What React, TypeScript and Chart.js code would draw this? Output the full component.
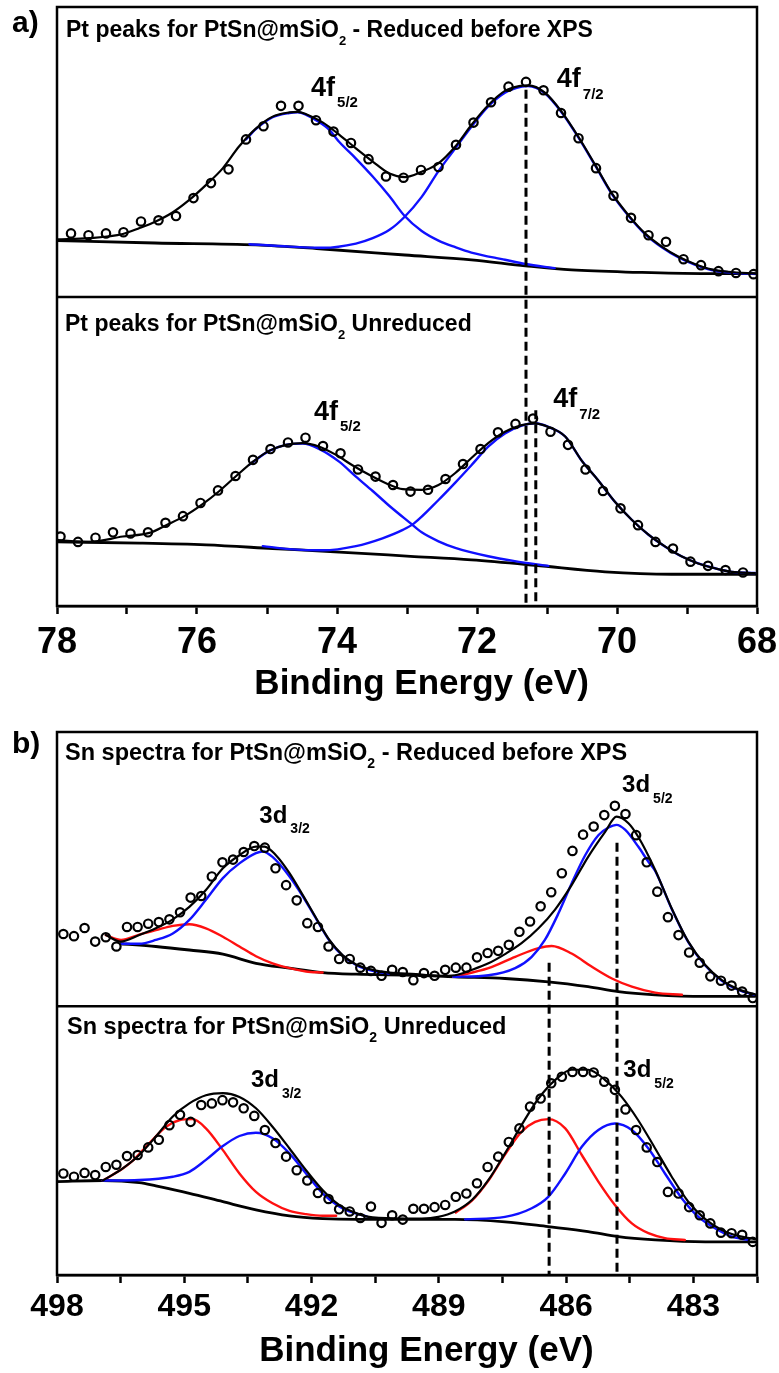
import React, { useEffect, useRef } from "react";
import { Chart, registerables } from "chart.js";

Chart.register(...registerables);

const FONT_FAMILY = "'Liberation Sans', Arial, Helvetica, sans-serif";
const BLUE = "#1010ff";
const RED = "#ff1010";

// ---------------- Panel a : Pt 4f (x = binding energy eV, y = stacked intensity a.u.) ----------------
const ptAxis = { min: 68, max: 78, step: 1, labelEvery: 2 };
const ptSeparator = 51.6;

const ptReducedPoints: number[][] = [
  [77.8, 62.2], [77.55, 61.9], [77.3, 62.2], [77.05, 62.4], [76.8, 64.2], [76.55, 64.4], [76.3, 65.1], [76.05, 68.1],
  [75.8, 70.6], [75.55, 72.9], [75.3, 77.9], [75.05, 80.1], [74.8, 83.5], [74.55, 83.5], [74.3, 81.1], [74.05, 79.2],
  [73.8, 77.3], [73.55, 74.6], [73.3, 71.7], [73.05, 71.5], [72.8, 72.8], [72.55, 73.3], [72.3, 77.0], [72.05, 80.7],
  [71.8, 84.1], [71.55, 86.7], [71.3, 87.5], [71.05, 86.1], [70.8, 82.3], [70.55, 78.1], [70.3, 73.1], [70.05, 68.5],
  [69.8, 64.8], [69.55, 61.9], [69.3, 60.8], [69.05, 57.9], [68.8, 56.9], [68.55, 55.9], [68.3, 55.6], [68.05, 55.4],
];
const ptReducedFit: number[][] = [
  [78.0, 61.2], [77.54, 61.4], [77.06, 62.1], [76.82, 63.1], [76.59, 64.2], [76.35, 65.7], [76.11, 67.8], [75.87, 70.3],
  [75.63, 73.1], [75.4, 76.7], [75.16, 79.7], [74.92, 81.7], [74.68, 82.4], [74.56, 82.5], [74.44, 82.1], [74.2, 80.7],
  [73.97, 78.7], [73.73, 76.4], [73.49, 74.2], [73.25, 72.2], [73.03, 71.6], [72.79, 72.5], [72.55, 73.9], [72.31, 76.7],
  [72.08, 80.3], [71.84, 83.6], [71.6, 86.0], [71.4, 86.8], [71.27, 86.9], [71.03, 85.7], [70.79, 82.5], [70.55, 78.3],
  [70.31, 73.6], [70.08, 69.0], [69.84, 65.3], [69.6, 62.2], [69.36, 60.0], [69.12, 58.3], [68.89, 57.1], [68.65, 56.2],
  [68.41, 55.8], [68.0, 55.5],
];
const ptReducedBackground: number[][] = [
  [78.0, 61.0], [76.6, 60.6], [75.16, 60.3], [74.2, 59.6], [73.03, 58.6], [72.08, 57.8], [71.31, 56.8], [70.65, 56.1],
  [69.7, 55.7], [68.8, 55.5], [68.0, 55.5],
];
const ptReduced52: number[][] = [
  [75.3, 77.9], [75.16, 79.6], [74.92, 81.6], [74.68, 82.3], [74.56, 82.4], [74.44, 82.0], [74.3, 81.1], [74.11, 79.5],
  [73.97, 77.5], [73.73, 74.7], [73.49, 71.7], [73.25, 68.4], [73.04, 65.2], [72.79, 62.6], [72.55, 61.0], [72.31, 59.9],
  [72.08, 59.0], [71.6, 57.8], [71.31, 57.1], [70.89, 56.4],
];
const ptReduced72: number[][] = [
  [75.25, 60.4], [74.68, 60.0], [74.2, 59.8], [73.73, 60.5], [73.49, 61.4], [73.25, 62.8], [73.04, 64.9], [72.79, 68.3],
  [72.55, 72.6], [72.31, 76.4], [72.08, 80.0], [71.84, 83.4], [71.6, 85.7], [71.36, 86.7], [71.27, 86.8], [71.03, 85.6],
  [70.79, 82.4], [70.55, 78.2], [70.31, 73.5], [70.08, 68.9], [69.84, 65.2], [69.6, 62.1], [69.36, 59.9], [69.12, 58.2],
  [68.89, 57.0], [68.65, 56.1], [68.41, 55.7], [68.0, 55.4],
];

const ptUnreducedPoints: number[][] = [
  [77.95, 11.6], [77.7, 10.7], [77.45, 11.4], [77.2, 12.3], [76.95, 12.1], [76.7, 12.3], [76.45, 13.9], [76.2, 15.0],
  [75.95, 17.2], [75.7, 19.3], [75.45, 21.7], [75.2, 24.4], [74.95, 26.2], [74.7, 27.3], [74.45, 28.1], [74.2, 26.7],
  [73.95, 25.5], [73.7, 22.8], [73.45, 21.6], [73.2, 20.2], [72.95, 19.1], [72.7, 19.4], [72.45, 21.2], [72.2, 23.7],
  [71.95, 26.2], [71.7, 29.0], [71.45, 30.4], [71.2, 31.3], [70.95, 29.1], [70.7, 26.9], [70.45, 22.8], [70.2, 19.2],
  [69.95, 16.3], [69.7, 13.5], [69.45, 10.7], [69.2, 9.6], [68.95, 7.4], [68.7, 6.7], [68.45, 6.0], [68.2, 5.6],
];
const ptUnreducedFit: number[][] = [
  [78.0, 11.0], [77.54, 10.7], [77.06, 11.6], [76.68, 12.2], [76.44, 13.5], [76.18, 15.0], [75.92, 17.0], [75.68, 19.2],
  [75.44, 21.7], [75.2, 24.1], [74.97, 25.9], [74.73, 26.9], [74.49, 27.2], [74.25, 26.6], [74.01, 25.2], [73.78, 23.5],
  [73.54, 21.9], [73.3, 20.5], [73.06, 19.5], [72.79, 19.4], [72.55, 20.2], [72.31, 22.2], [72.08, 24.7], [71.84, 27.2],
  [71.6, 29.1], [71.36, 30.2], [71.17, 30.5], [70.98, 29.9], [70.74, 28.3], [70.5, 24.2], [70.27, 21.0], [70.03, 17.4],
  [69.79, 14.4], [69.55, 11.9], [69.31, 9.9], [69.08, 8.3], [68.84, 7.1], [68.6, 6.3], [68.36, 5.7], [68.03, 5.5],
];
const ptUnreducedBackground: number[][] = [
  [78.0, 10.7], [76.82, 10.5], [75.87, 10.2], [74.92, 9.6], [73.97, 9.0], [72.95, 8.3], [72.08, 7.7], [71.17, 6.8],
  [70.17, 5.7], [69.22, 5.3], [68.0, 5.3],
];
const ptUnreduced52: number[][] = [
  [75.25, 23.6], [74.97, 25.9], [74.73, 26.9], [74.49, 27.1], [74.25, 26.2], [73.97, 24.1], [73.73, 21.6], [73.49, 19.2],
  [73.25, 16.7], [72.97, 14.0], [72.79, 12.3], [72.55, 10.8], [72.31, 9.7], [71.84, 8.3], [71.46, 7.5], [70.98, 6.7],
];
const ptUnreduced72: number[][] = [
  [75.06, 10.0], [74.68, 9.5], [74.2, 9.3], [73.73, 10.0], [73.35, 11.3], [73.06, 12.7], [72.9, 13.8], [72.55, 17.7],
  [72.31, 20.6], [72.08, 23.5], [71.84, 26.6], [71.6, 28.8], [71.36, 30.1], [71.17, 30.5], [70.98, 29.9], [70.74, 28.3],
  [70.5, 24.2], [70.27, 21.0], [70.03, 17.4], [69.79, 14.4], [69.55, 11.9], [69.31, 9.9], [69.08, 8.3], [68.84, 7.1],
  [68.6, 6.3], [68.36, 5.7], [68.03, 5.5],
];
// reference lines: [energy, top intensity]
const ptMarkers: number[][] = [[71.3, 86.2], [71.16, 32.7]];

// ---------------- Panel b : Sn 3d ----------------
const snAxis = { min: 481.5, max: 498, step: 1.5, labelEvery: 3 };
const snSeparator = 49.5;

const snReducedPoints: number[][] = [
  [497.85, 62.8], [497.6, 62.4], [497.35, 63.9], [497.1, 61.4], [496.85, 62.2], [496.6, 60.5], [496.35, 64.1], [496.1, 64.1],
  [495.85, 64.7], [495.6, 65.0], [495.35, 65.5], [495.1, 66.8], [494.85, 69.5], [494.6, 69.8], [494.35, 73.4], [494.1, 76.0],
  [493.85, 76.5], [493.6, 77.9], [493.35, 79.0], [493.1, 78.7], [492.85, 74.9], [492.6, 71.8], [492.35, 69.0], [492.1, 64.8],
  [491.85, 64.1], [491.6, 60.5], [491.35, 58.2], [491.1, 58.2], [490.85, 56.6], [490.6, 56.0], [490.35, 55.1], [490.1, 56.2],
  [489.85, 55.8], [489.6, 54.3], [489.35, 55.6], [489.1, 55.1], [488.85, 56.2], [488.6, 56.6], [488.35, 56.6], [488.1, 58.5],
  [487.85, 59.3], [487.6, 59.7], [487.35, 60.8], [487.1, 63.2], [486.85, 65.1], [486.6, 67.9], [486.35, 70.5], [486.1, 74.0],
  [485.85, 78.1], [485.6, 81.1], [485.35, 82.6], [485.1, 84.7], [484.85, 86.4], [484.6, 84.9], [484.35, 81.0], [484.1, 76.0],
  [483.85, 70.6], [483.6, 65.9], [483.35, 62.6], [483.1, 59.4], [482.85, 57.5], [482.6, 55.0], [482.35, 54.2], [482.1, 53.3],
  [481.85, 52.2], [481.6, 51.0],
];
const snReducedFit: number[][] = [
  [496.85, 62.6], [496.5, 61.4], [496.06, 62.6], [495.67, 63.85], [495.27, 65.5], [494.88, 67.8], [494.49, 70.9], [494.09, 74.9],
  [493.7, 77.3], [493.31, 78.9], [493.11, 78.9], [492.84, 77.3], [492.52, 74.0], [492.21, 70.0], [491.89, 65.7], [491.58, 61.7],
  [491.27, 58.9], [490.95, 57.2], [490.56, 56.2], [490.17, 55.7], [489.54, 55.4], [489.01, 55.1], [488.62, 55.2], [488.22, 56.2],
  [487.83, 57.4], [487.44, 59.1], [487.05, 61.1], [486.65, 63.85], [486.26, 67.3], [485.87, 71.8], [485.48, 77.0], [485.08, 81.6],
  [484.81, 84.4], [484.53, 83.2], [484.3, 80.7], [483.9, 74.6], [483.51, 67.5], [483.12, 61.4], [482.72, 57.1], [482.33, 54.3],
  [481.94, 52.6], [481.55, 51.7],
];
const snReducedBackground: number[][] = [
  [496.5, 61.0], [495.67, 60.5], [494.88, 59.85], [494.09, 59.1], [493.31, 57.4], [492.52, 56.5], [491.74, 55.7], [490.95, 55.4],
  [489.54, 55.2], [488.62, 54.9], [487.44, 54.6], [486.42, 54.0], [485.48, 53.1], [484.77, 52.2], [483.9, 51.6], [482.72, 51.3],
  [481.55, 51.3],
];
const snReducedBlue32: number[][] = [
  [496.5, 61.0], [496.06, 61.0], [495.67, 61.7], [495.27, 62.9], [494.88, 65.4], [494.49, 69.1], [494.09, 73.1], [493.7, 75.8],
  [493.31, 77.7], [493.15, 78.0], [492.92, 77.0], [492.52, 73.4], [492.21, 69.8], [491.89, 65.6], [491.58, 61.6], [491.27, 58.8],
  [490.95, 57.1], [490.56, 56.0], [490.17, 55.5],
];
const snReducedRed32: number[][] = [
  [496.85, 62.6], [496.49, 61.7], [496.06, 62.7], [495.67, 63.5], [495.27, 64.3], [494.88, 64.6], [494.49, 63.85], [494.09, 62.3],
  [493.7, 60.5], [493.31, 58.7], [492.92, 57.4], [492.52, 56.5], [492.13, 55.9], [491.74, 55.7],
];
const snReducedBlue52: number[][] = [
  [488.66, 54.9], [487.83, 55.2], [487.2, 56.5], [486.81, 58.6], [486.5, 61.7], [486.18, 66.6], [485.87, 72.1], [485.55, 77.3],
  [485.24, 81.0], [485.0, 82.4], [484.81, 82.9], [484.61, 82.0], [484.3, 78.9], [484.06, 76.1], [483.9, 74.4], [483.51, 67.4],
  [483.12, 61.3], [482.72, 57.0], [482.33, 54.2], [481.94, 52.5], [481.55, 51.6],
];
const snReducedRed52: number[][] = [
  [488.66, 54.9], [487.83, 56.5], [487.2, 58.6], [486.65, 60.2], [486.34, 60.6], [485.87, 59.2], [485.4, 56.8], [484.92, 54.6],
  [484.45, 53.1], [483.9, 52.0], [483.27, 51.6],
];

const snUnreducedPoints: number[][] = [
  [497.85, 18.7], [497.6, 18.1], [497.35, 18.8], [497.1, 18.4], [496.85, 19.9], [496.6, 20.3], [496.35, 21.9], [496.1, 22.1],
  [495.85, 23.5], [495.6, 24.9], [495.35, 27.6], [495.1, 29.5], [494.85, 28.2], [494.6, 31.3], [494.35, 31.6], [494.1, 32.2],
  [493.85, 31.8], [493.6, 30.7], [493.35, 29.3], [493.1, 26.7], [492.85, 24.3], [492.6, 21.8], [492.35, 19.3], [492.1, 17.4],
  [491.85, 15.1], [491.6, 14.0], [491.35, 12.1], [491.1, 11.7], [490.85, 10.5], [490.6, 12.6], [490.35, 9.6], [490.1, 11.0],
  [489.85, 10.2], [489.6, 12.2], [489.35, 12.2], [489.1, 12.5], [488.85, 12.9], [488.6, 14.4], [488.35, 15.0], [488.1, 16.9],
  [487.85, 19.9], [487.6, 21.8], [487.35, 24.5], [487.1, 27.0], [486.85, 31.0], [486.6, 32.5], [486.35, 35.3], [486.1, 36.5],
  [485.85, 37.4], [485.6, 37.4], [485.35, 37.3], [485.1, 35.6], [484.85, 34.1], [484.6, 30.5], [484.35, 26.7], [484.1, 23.5],
  [483.85, 20.8], [483.6, 15.3], [483.35, 15.0], [483.1, 12.5], [482.85, 11.0], [482.6, 9.5], [482.35, 7.8], [482.1, 7.7],
  [481.85, 7.4], [481.6, 6.1],
];
const snUnreducedFit: number[][] = [
  [496.92, 17.4], [496.45, 19.65], [496.06, 22.1], [495.67, 25.5], [495.27, 29.2], [494.88, 31.6], [494.49, 33.1], [494.09, 33.5],
  [493.7, 32.8], [493.31, 30.7], [492.92, 27.3], [492.52, 23.3], [492.13, 19.3], [491.74, 15.65], [491.35, 12.9], [490.95, 11.4],
  [490.56, 10.6], [489.77, 10.4], [489.4, 10.4], [489.01, 10.7], [488.62, 11.7], [488.22, 13.8], [487.83, 17.5], [487.44, 22.4],
  [487.05, 27.6], [486.65, 32.5], [486.26, 35.9], [485.87, 37.8], [485.48, 37.8], [485.08, 35.9], [484.69, 32.8], [484.3, 28.5],
  [483.9, 23.3], [483.51, 18.1], [483.12, 13.5], [482.72, 10.3], [482.33, 8.3], [481.94, 7.2], [481.55, 6.6],
];
const snUnreducedBackground: number[][] = [
  [498.0, 17.2], [496.92, 17.4], [496.06, 17.0], [495.67, 16.4], [494.88, 15.05], [494.09, 13.5], [493.31, 12.0], [492.52, 10.9],
  [491.74, 10.4], [490.95, 10.25], [489.54, 10.25], [488.62, 10.25], [487.44, 9.8], [486.42, 8.9], [485.48, 8.0], [484.77, 7.05],
  [483.9, 6.45], [482.72, 6.1], [481.55, 6.1],
];
const snUnreducedRed32: number[][] = [
  [496.92, 17.4], [496.45, 19.6], [496.22, 21.0], [495.82, 24.3], [495.43, 27.3], [495.12, 28.5], [494.8, 28.7], [494.49, 27.0],
  [494.09, 23.0], [493.7, 18.7], [493.31, 15.3], [492.92, 13.2], [492.52, 11.8], [492.13, 11.2], [491.74, 10.9], [491.42, 10.9],
];
const snUnreducedBlue32: number[][] = [
  [496.92, 17.4], [496.06, 17.5], [495.27, 18.1], [494.88, 19.0], [494.49, 21.2], [494.09, 23.75], [493.7, 25.6], [493.31, 26.2],
  [492.92, 25.2], [492.52, 22.4], [492.13, 18.7], [491.74, 15.05], [491.35, 12.6], [491.11, 11.7], [490.7, 10.8],
];
const snUnreducedRed52: number[][] = [
  [488.6, 11.5], [488.22, 13.7], [487.83, 17.4], [487.44, 22.2], [487.05, 26.4], [486.73, 28.2], [486.42, 28.7], [486.02, 27.0],
  [485.63, 22.1], [485.24, 17.2], [484.85, 12.9], [484.45, 9.5], [484.06, 7.7], [483.67, 6.8], [483.2, 6.45],
];
const snUnreducedBlue52: number[][] = [
  [488.38, 10.25], [487.44, 10.7], [486.81, 12.3], [486.42, 14.4], [486.02, 18.7], [485.63, 23.6], [485.24, 26.7], [484.85, 27.9],
  [484.45, 26.7], [484.06, 23.3], [483.67, 18.7], [483.27, 14.1], [482.88, 10.7], [482.49, 8.6], [482.09, 7.05], [481.7, 6.45],
];
const snMarkers: number[][] = [[486.4, 57.5], [484.8, 79.6]];

// ---------------- helpers ----------------
const toXY = (arr: number[][]) => arr.map(([x, y]) => ({ x, y }));

const lineDs = (data: number[][], color: string, width: number, order: number) => ({
  data: toXY(data),
  borderColor: color,
  borderWidth: width,
  pointRadius: 0,
  fill: false,
  cubicInterpolationMode: "monotone",
  borderJoinStyle: "round",
  borderCapStyle: "round",
  order,
});
const pointDs = (data: number[][]) => ({
  data: toXY(data),
  showLine: false,
  pointRadius: 4.2,
  pointBorderWidth: 2.2,
  pointBorderColor: "#000",
  pointBackgroundColor: "rgba(0,0,0,0)",
  borderColor: "#000",
  order: 0,
});
const markerDs = ([e, top]: number[]) => ({
  data: [{ x: e, y: top }, { x: e, y: 0 }],
  borderColor: "#000",
  borderWidth: 3,
  borderDash: [9, 5],
  pointRadius: 0,
  fill: false,
  order: 1,
});

type Part = [string, boolean];
type TitleSpec = { parts: Part[]; ref: "top" | "sep"; dx: number; dy: number; size: number };
type PeakSpec = { main: string; sub: string; e: number; v: number; size: number; subSize: number; subDy: number; gap: number };

function drawRich(ctx: CanvasRenderingContext2D, x: number, y: number, parts: Part[], size: number, subSize: number, subDy: number, gap: number) {
  let cx = x;
  for (const [t, sub] of parts) {
    ctx.font = `bold ${sub ? subSize : size}px ${FONT_FAMILY}`;
    if (sub) cx += gap;
    ctx.fillText(t, cx, sub ? y + subDy : y);
    cx += ctx.measureText(t).width;
  }
}

function decorPlugin(spec: any) {
  return {
    id: "decor",
    afterDraw(chart: any) {
      const { ctx, chartArea: ca, scales } = chart;
      const ySep = scales.y.getPixelForValue(spec.separator);
      ctx.save();
      ctx.strokeStyle = "#000";
      ctx.lineWidth = 2.5;
      ctx.setLineDash([]);
      ctx.strokeRect(ca.left, ca.top, ca.right - ca.left, ca.bottom - ca.top);
      ctx.beginPath();
      ctx.moveTo(ca.left, ySep);
      ctx.lineTo(ca.right, ySep);
      ctx.stroke();
      ctx.fillStyle = "#000";
      ctx.textAlign = "left";
      ctx.textBaseline = "alphabetic";
      for (const t of spec.titles as TitleSpec[]) {
        const by = (t.ref === "top" ? ca.top : ySep) + t.dy;
        drawRich(ctx, ca.left + t.dx, by, t.parts, t.size, Math.round(t.size * 0.58), 8, 0);
      }
      for (const p of spec.peaks as PeakSpec[]) {
        const px = scales.x.getPixelForValue(p.e);
        const py = scales.y.getPixelForValue(p.v);
        drawRich(ctx, px, py, [[p.main, false], [p.sub, true]], p.size, p.subSize, p.subDy, p.gap);
      }
      ctx.font = `bold 30px ${FONT_FAMILY}`;
      ctx.fillText(spec.letter, 12, spec.letterY);
      ctx.restore();
    },
  };
}

function buildConfig(spec: any) {
  const ax = spec.axis;
  return {
    type: "line",
    data: { datasets: spec.datasets },
    options: {
      responsive: false,
      animation: false,
      events: [],
      layout: { padding: spec.padding },
      plugins: { legend: { display: false }, tooltip: { enabled: false } },
      scales: {
        x: {
          type: "linear",
          min: ax.min,
          max: ax.max,
          reverse: true,
          ticks: {
            stepSize: ax.step,
            maxTicksLimit: 100,
            autoSkip: false,
            maxRotation: 0,
            minRotation: 0,
            padding: spec.tickPad,
            color: "#000",
            font: { family: FONT_FAMILY, size: spec.tickSize, weight: "bold" },
            callback: (v: number) => {
              const k = Math.round(v / ax.labelEvery);
              return Math.abs(k * ax.labelEvery - v) < 1e-6 ? String(Math.round(v)) : "";
            },
          },
          grid: {
            display: true,
            drawOnChartArea: false,
            drawTicks: true,
            tickLength: 8,
            tickWidth: 2.5,
            tickColor: "#000",
            color: "#000",
          },
          border: { display: true, color: "#000", width: 2.5 },
          title: {
            display: true,
            // leading spaces shift the centred title slightly right, as in the original
            text: spec.axisTitle,
            color: "#000",
            font: { family: FONT_FAMILY, size: 35, weight: "bold" },
            padding: { top: 0, bottom: spec.titlePad },
          },
          afterFit: (s: any) => {
            s.height = spec.axisHeight;
            s.paddingLeft = 0;
            s.paddingRight = 0;
          },
        },
        y: { type: "linear", display: false, min: 0, max: 100 },
      },
    },
    plugins: [decorPlugin(spec)],
  };
}

const panelA = {
  top: 0,
  height: 710,
  axisHeight: 104,
  padding: { left: 57, right: 22, top: 7, bottom: 0 },
  tickSize: 36,
  tickPad: 7,
  titlePad: 5,
  axisTitle: "   Binding Energy (eV)",
  axis: ptAxis,
  separator: ptSeparator,
  letter: "a)",
  letterY: 32,
  datasets: [
    pointDs(ptReducedPoints),
    pointDs(ptUnreducedPoints),
    ...ptMarkers.map(markerDs),
    lineDs(ptReducedFit, "#000", 2.2, 2),
    lineDs(ptUnreducedFit, "#000", 2.2, 2),
    lineDs(ptReduced52, BLUE, 2.4, 3),
    lineDs(ptReduced72, BLUE, 2.4, 3),
    lineDs(ptUnreduced52, BLUE, 2.4, 3),
    lineDs(ptUnreduced72, BLUE, 2.4, 3),
    lineDs(ptReducedBackground, "#000", 2.8, 4),
    lineDs(ptUnreducedBackground, "#000", 2.8, 4),
  ],
  titles: [
    { parts: [["Pt peaks for PtSn@mSiO", false], ["2", true], [" - Reduced before XPS", false]], ref: "top", dx: 9, dy: 29.7, size: 23 },
    { parts: [["Pt peaks for PtSn@mSiO", false], ["2", true], [" Unreduced", false]], ref: "sep", dx: 8, dy: 34.5, size: 23 },
  ],
  peaks: [
    { main: "4f", sub: "5/2", e: 74.37, v: 85.1, size: 27, subSize: 15, subDy: 11, gap: 2 },
    { main: "4f", sub: "7/2", e: 70.86, v: 86.6, size: 27, subSize: 15, subDy: 12, gap: 2 },
    { main: "4f", sub: "5/2", e: 74.33, v: 31.05, size: 27, subSize: 15, subDy: 11, gap: 2 },
    { main: "4f", sub: "7/2", e: 70.91, v: 33.2, size: 27, subSize: 15, subDy: 12, gap: 2 },
  ],
};

const panelB = {
  top: 720,
  height: 653,
  axisHeight: 98,
  padding: { left: 57, right: 22, top: 12, bottom: 0 },
  tickSize: 32,
  tickPad: 5,
  titlePad: 1,
  axisTitle: "    Binding Energy (eV)",
  axis: snAxis,
  separator: snSeparator,
  letter: "b)",
  letterY: 33,
  datasets: [
    pointDs(snReducedPoints),
    pointDs(snUnreducedPoints),
    ...snMarkers.map(markerDs),
    lineDs(snReducedFit, "#000", 2.2, 2),
    lineDs(snUnreducedFit, "#000", 2.2, 2),
    lineDs(snReducedBlue32, BLUE, 2.4, 3),
    lineDs(snReducedBlue52, BLUE, 2.4, 3),
    lineDs(snUnreducedBlue32, BLUE, 2.4, 3),
    lineDs(snUnreducedBlue52, BLUE, 2.4, 3),
    lineDs(snReducedRed32, RED, 2.4, 3),
    lineDs(snReducedRed52, RED, 2.4, 3),
    lineDs(snUnreducedRed32, RED, 2.4, 3),
    lineDs(snUnreducedRed52, RED, 2.4, 3),
    lineDs(snReducedBackground, "#000", 2.8, 4),
    lineDs(snUnreducedBackground, "#000", 2.8, 4),
  ],
  titles: [
    { parts: [["Sn spectra for PtSn@mSiO", false], ["2", true], [" - Reduced before XPS", false]], ref: "top", dx: 8, dy: 28, size: 23.5 },
    { parts: [["Sn spectra for PtSn@mSiO", false], ["2", true], [" Unreduced", false]], ref: "sep", dx: 10, dy: 27.3, size: 23.5 },
  ],
  peaks: [
    { main: "3d", sub: "3/2", e: 493.23, v: 83.2, size: 24, subSize: 14, subDy: 10, gap: 3 },
    { main: "3d", sub: "5/2", e: 484.68, v: 89.0, size: 24, subSize: 14, subDy: 11, gap: 3 },
    { main: "3d", sub: "3/2", e: 493.43, v: 34.7, size: 24, subSize: 14, subDy: 11, gap: 3 },
    { main: "3d", sub: "5/2", e: 484.65, v: 36.5, size: 24, subSize: 14, subDy: 11, gap: 3 },
  ],
};

function PanelChart({ spec }: { spec: any }) {
  const ref = useRef<HTMLCanvasElement>(null);
  useEffect(() => {
    if (!ref.current) return;
    const chart = new Chart(ref.current, buildConfig(spec) as any);
    return () => chart.destroy();
  }, [spec]);
  return (
    <canvas
      ref={ref}
      width={779}
      height={spec.height}
      style={{ position: "absolute", left: 0, top: spec.top, width: 779, height: spec.height }}
    />
  );
}

export default function App() {
  return (
    <div style={{ position: "absolute", left: 0, top: 0, width: 779, height: 1373, background: "#fff" }}>
      <PanelChart spec={panelA} />
      <PanelChart spec={panelB} />
    </div>
  );
}
